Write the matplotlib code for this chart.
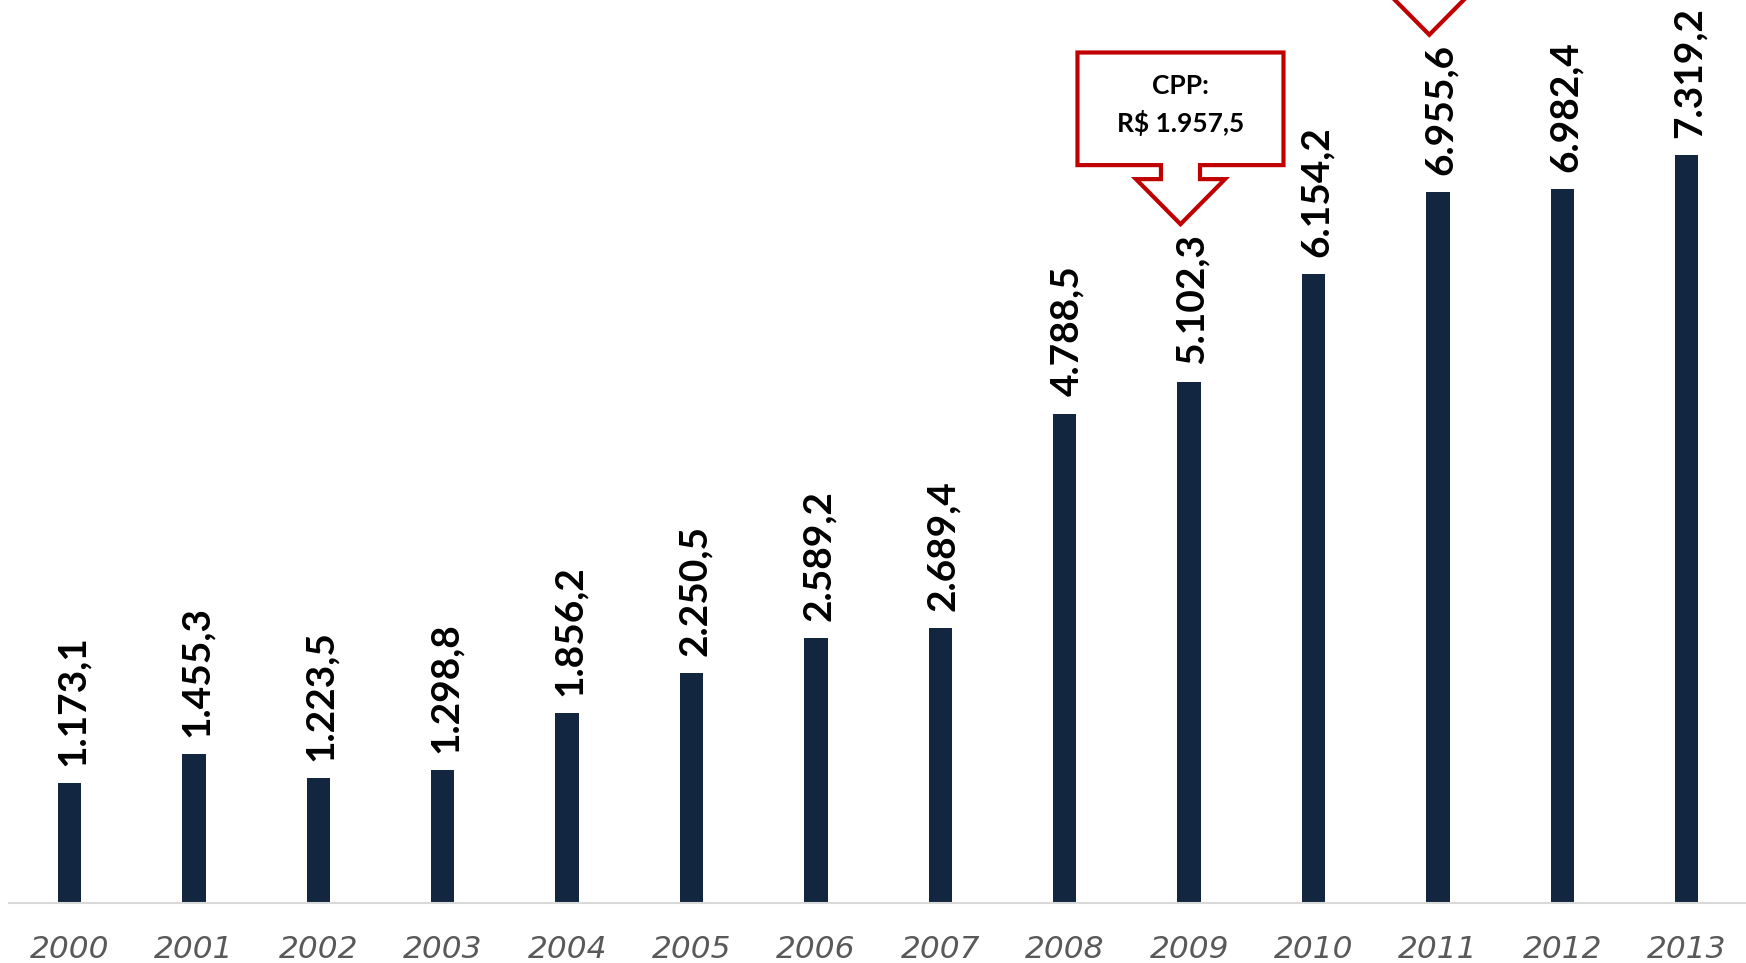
import matplotlib
matplotlib.use('Agg')
import matplotlib.pyplot as plt
from matplotlib.patches import Polygon

# dados do gráfico
anos = ['2000', '2001', '2002', '2003', '2004', '2005', '2006',
        '2007', '2008', '2009', '2010', '2011', '2012', '2013']
valores = [1173.1, 1455.3, 1223.5, 1298.8, 1856.2, 2250.5, 2589.2,
           2689.4, 4788.5, 5102.3, 6154.2, 6955.6, 6982.4, 7319.2]
rotulos = ['1.173,1', '1.455,3', '1.223,5', '1.298,8', '1.856,2', '2.250,5', '2.589,2',
           '2.689,4', '4.788,5', '5.102,3', '6.154,2', '6.955,6', '6.982,4', '7.319,2']
# caixas de destaque (ano, texto)
destaques = [('2009', 'CPP:\nR$ 1.957,5'), ('2011', '')]

cor_barra = '#13263f'
cor_vermelho = '#c00000'

fig = plt.figure(figsize=(17.46, 9.63), dpi=100)
ax = fig.add_axes([9 / 1746, 60 / 963, 1 - 9 / 1746, 903 / 963])

x = list(range(len(anos)))
ax.bar(x, valores, width=0.188, color=cor_barra, zorder=2)

# rótulos de valor, verticais
for xi, v, r in zip(x, valores, rotulos):
    ax.text(xi + 0.02, v + 170, r, rotation=90, ha='center', va='bottom',
            fontsize=28, fontweight='bold', family='Lato', color='black')


def callout(ax, xc, y_tip, texto):
    # forma de seta para baixo (caixa + haste + ponta)
    bw, sw, hw = 0.828, 0.157, 0.358
    box_top, box_bot = y_tip + 1680, y_tip + 578
    head_top = y_tip + 441
    pts = [(xc - bw, box_top), (xc + bw, box_top), (xc + bw, box_bot),
           (xc + sw, box_bot), (xc + sw, head_top), (xc + hw, head_top),
           (xc, y_tip), (xc - hw, head_top), (xc - sw, head_top),
           (xc - sw, box_bot), (xc - bw, box_bot)]
    ax.add_patch(Polygon(pts, closed=True, facecolor='white', edgecolor=cor_vermelho,
                         linewidth=3, joinstyle='miter', zorder=3, clip_on=False))
    if texto:
        ax.text(xc, (box_top + box_bot) / 2 + 40, texto, ha='center', va='center',
                fontsize=19, fontweight='bold', family='Lato', color='black',
                linespacing=1.55, zorder=4)


for ano, texto in destaques:
    i = anos.index(ano)
    callout(ax, i - 0.07, valores[i] + 1540, texto)

ax.set_xlim(-0.487, 13.476)
ax.set_ylim(0, 8836)
ax.set_xticks(x)
ax.set_xticklabels(anos, fontsize=22.5, style='italic', family='DejaVu Sans', color='#595959')
ax.tick_params(axis='x', length=0, pad=23)
ax.set_yticks([])
for s in ['top', 'right', 'left']:
    ax.spines[s].set_visible(False)
ax.spines['bottom'].set_color('#d9d9d9')
ax.spines['bottom'].set_linewidth(1.5)

fig.savefig('out.png', dpi=100)
